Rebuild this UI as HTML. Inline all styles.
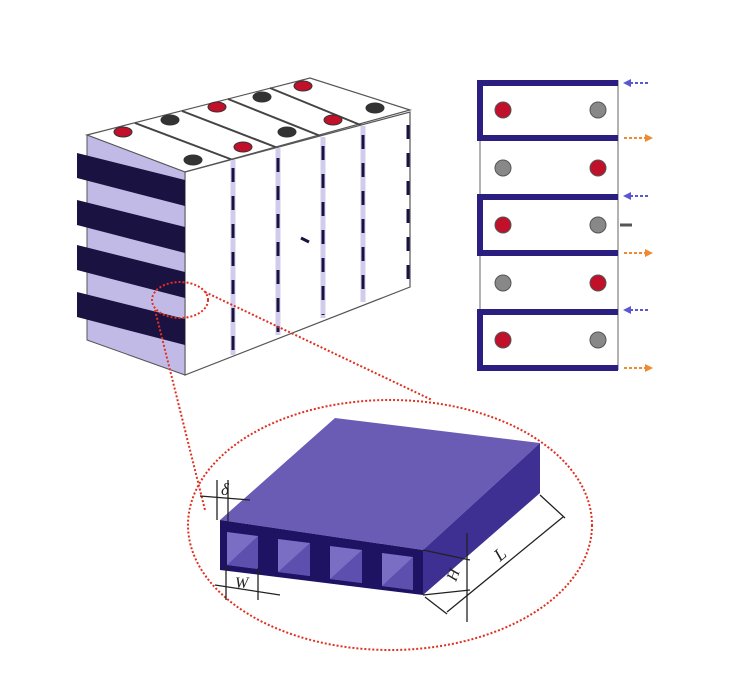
<!DOCTYPE html>
<html><head><meta charset="utf-8"><style>html,body{margin:0;padding:0;background:#fff}svg{display:block}</style></head>
<body>
<svg width="750" height="700" viewBox="0 0 750 700" xmlns="http://www.w3.org/2000/svg" font-family="Liberation Serif, serif">
<rect width="750" height="700" fill="#fff"/>
<polygon points="87,135 310,78 410,110 185,172" fill="#fff" stroke="#555" stroke-width="1.2"/>
<g stroke="#444" stroke-width="2">
<line x1="233" y1="160" x2="135" y2="123"/>
<line x1="278" y1="148" x2="182" y2="111"/>
<line x1="323" y1="137" x2="228" y2="99"/>
<line x1="363" y1="126" x2="270" y2="88"/>
</g>
<polygon points="185,172 410,112 410,287 185,375" fill="#fff" stroke="#555" stroke-width="1.2"/>
<polygon points="87,135 185,172 185,375 87,340" fill="#c2bae6" stroke="#555" stroke-width="1"/>
<g fill="#1a1240">
<polygon points="77,153 185,180 185,206 77,178"/>
<polygon points="77,200 185,227 185,253 77,225"/>
<polygon points="77,245 185,272 185,298 77,270"/>
<polygon points="77,292 185,319 185,345 77,317"/>
</g>
<g stroke="#d0ccec" stroke-width="5">
<line x1="233" y1="160" x2="233" y2="355"/>
<line x1="278" y1="148" x2="278" y2="335"/>
<line x1="323" y1="137" x2="323" y2="318"/>
<line x1="363" y1="126" x2="363" y2="302"/>
</g>
<g stroke="#1a1240" stroke-width="3" stroke-dasharray="14,14">
<line x1="233" y1="168" x2="233" y2="352"/>
<line x1="278" y1="158" x2="278" y2="332"/>
<line x1="323" y1="146" x2="323" y2="315"/>
<line x1="363" y1="135" x2="363" y2="298"/>
<line x1="408" y1="125" x2="408" y2="285"/>
</g>
<line x1="301" y1="238" x2="309" y2="242" stroke="#1a1240" stroke-width="3"/>
<g stroke="#333" stroke-width="1">
<ellipse cx="123" cy="132" rx="9" ry="5" fill="#c0102a"/>
<ellipse cx="193" cy="160" rx="9" ry="5" fill="#333"/>
<ellipse cx="170" cy="120" rx="9" ry="5" fill="#333"/>
<ellipse cx="243" cy="147" rx="9" ry="5" fill="#c0102a"/>
<ellipse cx="217" cy="107" rx="9" ry="5" fill="#c0102a"/>
<ellipse cx="287" cy="132" rx="9" ry="5" fill="#333"/>
<ellipse cx="262" cy="97" rx="9" ry="5" fill="#333"/>
<ellipse cx="333" cy="120" rx="9" ry="5" fill="#c0102a"/>
<ellipse cx="303" cy="86" rx="9" ry="5" fill="#c0102a"/>
<ellipse cx="375" cy="108" rx="9" ry="5" fill="#333"/>
</g>
<g fill="none" stroke="#e03020" stroke-width="2" stroke-dasharray="2,2">
<ellipse cx="180" cy="300" rx="28" ry="18"/>
<line x1="155" y1="310" x2="205" y2="510"/>
<line x1="205" y1="292" x2="432" y2="400"/>
<ellipse cx="390" cy="525" rx="202" ry="125"/>
</g>
<polygon points="220,520 335,418 540,443 423,550" fill="#6a5cb4"/>
<polygon points="423,550 540,443 540,493 423,595" fill="#3e2f92"/>
<polygon points="220,520 423,550 423,595 220,570" fill="#1e1262"/>
<g>
<polygon points="227,532 258,536 258,569 227,565" fill="#7a6ec4"/>
<polygon points="227,565 258,536 258,569" fill="#5c4fae"/>
<polygon points="278,539 310,543 310,576 278,572" fill="#7a6ec4"/>
<polygon points="278,572 310,543 310,576" fill="#5c4fae"/>
<polygon points="330,546 362,550 362,583 330,579" fill="#7a6ec4"/>
<polygon points="330,579 362,550 362,583" fill="#5c4fae"/>
<polygon points="382,553 413,557 413,590 382,586" fill="#7a6ec4"/>
<polygon points="382,586 413,557 413,590" fill="#5c4fae"/>
</g>
<g stroke="#222" stroke-width="1.3" fill="none">
<line x1="217" y1="480" x2="217" y2="520"/>
<line x1="228" y1="480" x2="228" y2="522"/>
<line x1="200" y1="496" x2="250" y2="500"/>
<line x1="226" y1="565" x2="226" y2="600"/>
<line x1="258" y1="568" x2="258" y2="600"/>
<line x1="215" y1="585" x2="280" y2="595"/>
<line x1="467" y1="533" x2="467" y2="622"/>
<line x1="423" y1="550" x2="470" y2="560"/>
<line x1="423" y1="595" x2="470" y2="590"/>
<line x1="540" y1="495" x2="565" y2="518"/>
<line x1="425" y1="597" x2="447" y2="614"/>
<line x1="447" y1="612" x2="563" y2="517"/>
</g>
<text x="221" y="495" font-size="17" font-style="italic" fill="#222">δ</text>
<text x="235" y="588" font-size="16" font-style="italic" fill="#222">W</text>
<text x="0" y="0" font-size="16" font-style="italic" fill="#222" transform="translate(456,582) rotate(-70)">H</text>
<text x="0" y="0" font-size="18" font-style="italic" fill="#222" transform="translate(500,562) rotate(-40)">L</text>
<g stroke="#999" stroke-width="1.5">
<line x1="480" y1="80" x2="480" y2="370"/>
<line x1="618" y1="80" x2="618" y2="370"/>
</g>
<g fill="none" stroke="#2a1f80" stroke-width="6">
<polyline points="618,83 480,83 480,138 618,138"/>
<polyline points="618,197 480,197 480,253 618,253"/>
<polyline points="618,312 480,312 480,368 618,368"/>
</g>
<g stroke="#555" stroke-width="1">
<circle cx="503" cy="110" r="8" fill="#c0102a"/><circle cx="598" cy="110" r="8" fill="#888"/>
<circle cx="503" cy="168" r="8" fill="#888"/><circle cx="598" cy="168" r="8" fill="#c0102a"/>
<circle cx="503" cy="225" r="8" fill="#c0102a"/><circle cx="598" cy="225" r="8" fill="#888"/>
<circle cx="503" cy="283" r="8" fill="#888"/><circle cx="598" cy="283" r="8" fill="#c0102a"/>
<circle cx="503" cy="340" r="8" fill="#c0102a"/><circle cx="598" cy="340" r="8" fill="#888"/>
</g>
<line x1="620" y1="225" x2="632" y2="225" stroke="#555" stroke-width="3"/>
<g stroke-width="2" stroke-dasharray="3,2">
<line x1="630" y1="83" x2="650" y2="83" stroke="#5a58d0"/>
<line x1="630" y1="196" x2="650" y2="196" stroke="#5a58d0"/>
<line x1="630" y1="310" x2="650" y2="310" stroke="#5a58d0"/>
<line x1="624" y1="138" x2="646" y2="138" stroke="#f08a30"/>
<line x1="624" y1="253" x2="646" y2="253" stroke="#f08a30"/>
<line x1="624" y1="368" x2="646" y2="368" stroke="#f08a30"/>
</g>
<g>
<polygon points="623,83 631,79 631,87" fill="#5a58d0"/>
<polygon points="623,196 631,192 631,200" fill="#5a58d0"/>
<polygon points="623,310 631,306 631,314" fill="#5a58d0"/>
<polygon points="653,138 645,134 645,142" fill="#f08a30"/>
<polygon points="653,253 645,249 645,257" fill="#f08a30"/>
<polygon points="653,368 645,364 645,372" fill="#f08a30"/>
</g>
</svg>
</body></html>
